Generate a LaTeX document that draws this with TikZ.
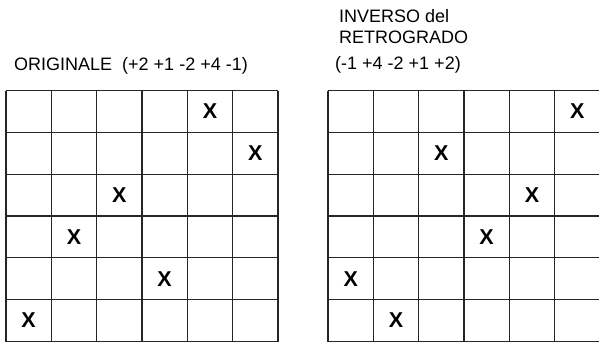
\documentclass[tikz,border=0pt]{standalone}
\usepackage{fontspec}
\setmainfont{Liberation Sans}

\newcommand*{\cw}{45.33}
\newcommand*{\ch}{41.83}
\newcommand*{\gbot}{7.5}
\newcommand*{\gtop}{258.5}

\begin{document}
\begin{tikzpicture}
[
	x=1pt, y=1pt,
	gridline/.style={line width=1.2pt, black!85},
	xmark/.style={font=\fontsize{21.5}{21.5}\selectfont\bfseries, inner sep=0pt},
	heading/.style={font=\fontsize{18}{20}\selectfont, anchor=base west, inner sep=0pt}
]
	\useasboundingbox (0,0) rectangle (599,349);

	% headings
	\node[heading] (orig) at (14,279) {ORIGINALE\ \ (+2 +1 -2 +4 -1)};
	\node[heading] (inv1) at (339,326.5) {INVERSO del};
	\node[heading] (inv2) at (339,305.8) {RETROGRADO};
	\node[heading] (inv3) at (335,280) {(-1 +4 -2 +1 +2)};

	% left grid
	\foreach \i in {0,...,6} {
		\draw[gridline] (6+\i*\cw,\gbot) -- (6+\i*\cw,\gtop);
		\draw[gridline] (6,\gbot+\i*\ch) -- (278,\gbot+\i*\ch);
	}
	\draw[gridline, line width=1.6pt] (6+3*\cw,\gbot) -- (6+3*\cw,\gtop);

	% right grid
	\foreach \i in {0,...,6} {
		\draw[gridline] (328+\i*\cw,\gbot) -- (328+\i*\cw,\gtop);
		\draw[gridline] (328,\gbot+\i*\ch) -- (600,\gbot+\i*\ch);
	}

	% marks
	\foreach \c [count=\r] in {5,6,3,2,4,1}
		\node[xmark] (ox\r) at (6+\c*\cw-\cw/2,\gtop-\r*\ch+\ch/2) {X};
	\foreach \c [count=\r] in {6,3,5,4,1,2}
		\node[xmark] (ix\r) at (328+\c*\cw-\cw/2,\gtop-\r*\ch+\ch/2) {X};

\end{tikzpicture}
\end{document}
